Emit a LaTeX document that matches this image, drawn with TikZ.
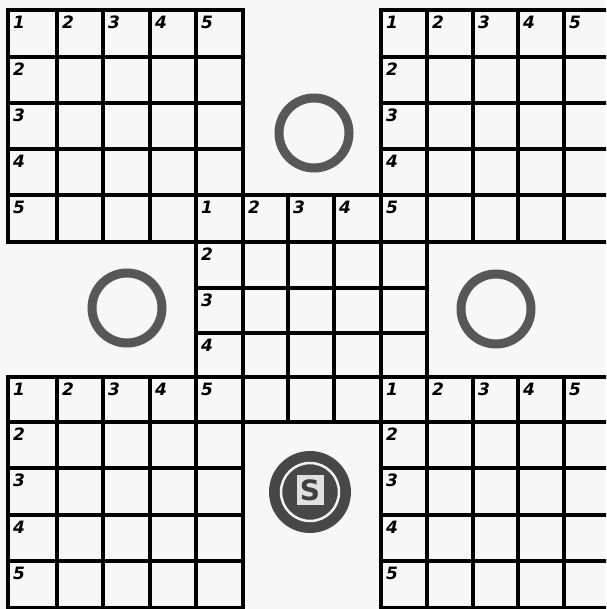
\documentclass[tikz,border=0pt]{standalone}
\usepackage{fontspec}
\setmainfont{DejaVu Sans}
\begin{document}
\begin{tikzpicture}[x=1pt,y=-1pt,
  gridline/.style={line width=3.3pt,black,line cap=rect},
  celllabel/.style={anchor=north west,inner sep=0pt,font=\fontsize{17}{17}\selectfont\bfseries\itshape},
  ring/.style={draw=black!66,line width=9pt}]
\fill[black!3] (0,0) rectangle (606,609);
\useasboundingbox (0,0) rectangle (606,609);
\def\xs{{8,57,103,150,196,243,288,334,381,427,473,518,564,611}}
\def\ys{{10,57,103,149,195,242,288,333,377,422,468,515,561,608}}
\begin{scope}
\clip (0,0) rectangle (606,609);
% five 5x5 blocks: (first column, first row)
\foreach \c/\r in {0/0,8/0,4/4,0/8,8/8}{
  \foreach \k in {0,...,5}{
    \pgfmathsetmacro\xa{\xs[\c+\k]}
    \pgfmathsetmacro\ya{\ys[\r]}
    \pgfmathsetmacro\yb{\ys[\r+5]}
    \draw[gridline] (\xa,\ya) -- (\xa,\yb);
    \pgfmathsetmacro\yk{\ys[\r+\k]}
    \pgfmathsetmacro\xl{\xs[\c]}
    \pgfmathsetmacro\xr{\xs[\c+5]}
    \draw[gridline] (\xl,\yk) -- (\xr,\yk);
  }
}
\end{scope}
% labels of the four corner blocks
\foreach \c/\r/\nm in {0/0/tl,8/0/tr,0/8/bl,8/8/br}{
  \foreach \k in {1,...,5}{
    \pgfmathsetmacro\xa{\xs[\c+\k-1]+5}
    \pgfmathsetmacro\ya{\ys[\r]+6}
    \node[celllabel] (\nm t\k) at (\xa,\ya) {\k};
  }
  \foreach \k in {2,...,5}{
    \pgfmathsetmacro\xa{\xs[\c]+5}
    \pgfmathsetmacro\ya{\ys[\r+\k-1]+6}
    \node[celllabel] (\nm l\k) at (\xa,\ya) {\k};
  }
}
% labels of the centre block
\foreach \k in {1,...,4}{
  \pgfmathsetmacro\xa{\xs[3+\k]+5}
  \pgfmathsetmacro\ya{\ys[4]+6}
  \node[celllabel] (ct\k) at (\xa,\ya) {\k};
}
\foreach \k in {2,...,4}{
  \pgfmathsetmacro\xa{\xs[4]+5}
  \pgfmathsetmacro\ya{\ys[3+\k]+6}
  \node[celllabel] (cl\k) at (\xa,\ya) {\k};
}
% rings
\draw[ring] (314,133) circle (35);
\draw[ring] (127,308) circle (35);
\draw[ring] (496,309) circle (35);
% start circle
\fill[black!72] (310,492) circle (41);
\draw[white!95!black,line width=2.5pt] (310,492) circle (29);
\node[fill=white!88!black,minimum width=27pt,minimum height=30pt,inner sep=0pt,
  font=\fontsize{28}{28}\selectfont\bfseries,text=black!75] (start) at (310,490) {S};
\end{tikzpicture}
\end{document}
